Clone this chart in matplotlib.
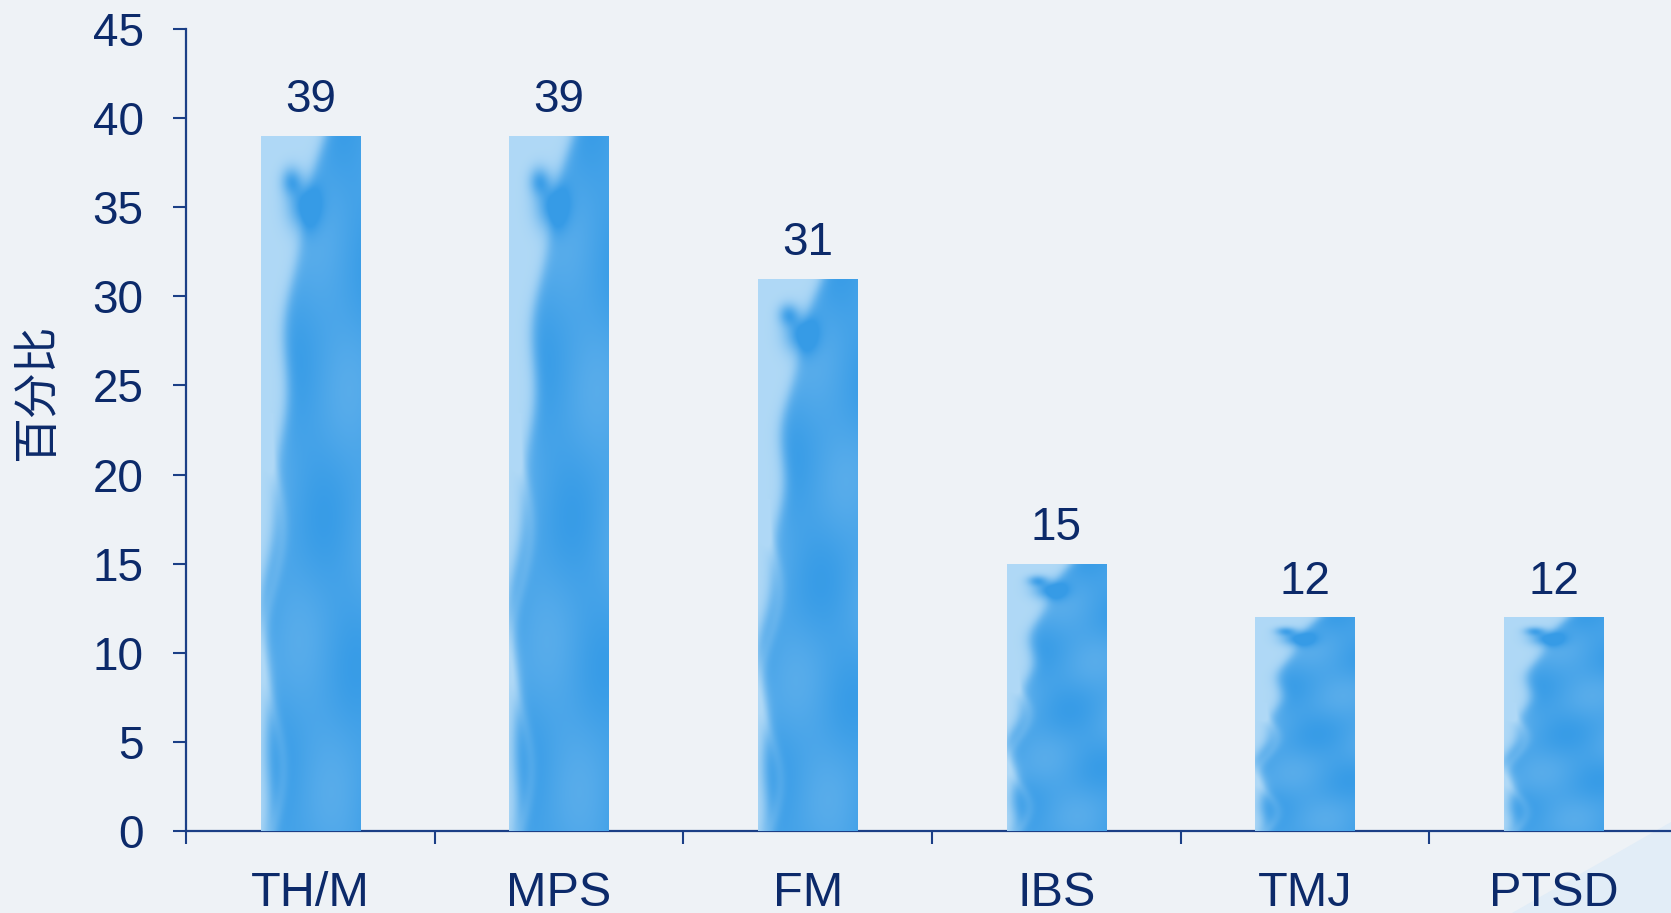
import numpy as np
import matplotlib
matplotlib.use("Agg")
import matplotlib.pyplot as plt
from matplotlib.patches import Polygon

# Chart data
categories = ["TH/M", "MPS", "FM", "IBS", "TMJ", "PTSD"]
values = [39, 39, 31, 15, 12, 12]
y_ticks = [0, 5, 10, 15, 20, 25, 30, 35, 40, 45]
y_label = "百分比"

NAVY = "#0c2a6a"
AXIS = "#1b3f86"
BG = "#eef2f6"
LIGHT = np.array([0.69, 0.85, 0.965])
DARK = np.array([0.215, 0.61, 0.905])

plt.rcParams["font.family"] = ["Liberation Sans", "DejaVu Sans"]


def watercolor_texture(h=400, w=120):
    """Smooth light-to-dark blue wash used to fill each bar."""
    y = np.linspace(0, 1, h)[:, None]          # 0 = bottom, 1 = top
    x = np.linspace(0, 1, w)[None, :]
    # boundary between the pale wash (left) and the saturated wash (right)
    edge = 0.04 + 0.55 * y ** 2.5 + 0.04 * np.sin(14 * y) + 0.025 * np.sin(31 * y + 1.0)
    t = 1.0 / (1.0 + np.exp(-(x - edge) / 0.035))
    # soft variation inside the saturated area
    t = t * (0.86 + 0.08 * np.sin(9 * y + 6 * x) + 0.05 * np.sin(23 * y - 4 * x))
    # darker brush stroke near the top
    blob = np.exp(-(((x - 0.42) / 0.16) ** 2 + ((y - 0.90) / 0.035) ** 2))
    blob += 0.8 * np.exp(-(((x - 0.30) / 0.10) ** 2 + ((y - 0.935) / 0.02) ** 2))
    t = np.clip(t + 0.9 * blob, 0, 1)
    # faint pale wisps in the lower-left part
    wisps = 0.18 * np.exp(-((x - 0.12 - 0.1 * np.sin(18 * y)) / 0.06) ** 2) * (y < 0.6)
    t = np.clip(t - wisps, 0, 1)
    img = LIGHT[None, None, :] * (1 - t[..., None]) + DARK[None, None, :] * t[..., None]
    return img[::-1]  # row 0 at the top for imshow


fig = plt.figure(figsize=(16.71, 9.13), dpi=100, facecolor=BG)

# pale decorative wash in the bottom-right corner, behind everything
fig.patches.append(Polygon([(0.905, 0.0), (1.0, 0.0), (1.0, 0.10)],
                           closed=True, transform=fig.transFigure,
                           facecolor="#e2edf7", edgecolor="none", zorder=-5))

ax = fig.add_axes([186 / 1671, (913 - 831) / 913, 1492 / 1671, 802 / 913])
ax.set_facecolor("none")
ax.set_zorder(1)

xpos = np.arange(len(categories))
bar_w = 0.4
bars = ax.bar(xpos, values, width=bar_w, color="#3b9ee8", zorder=2)
tex = watercolor_texture()
for rect, v in zip(bars, values):
    x0 = rect.get_x()
    im = ax.imshow(tex, extent=(x0, x0 + rect.get_width(), 0, v),
                   aspect="auto", interpolation="bilinear", zorder=3)
    im.set_clip_path(rect)
    ax.annotate(f"{v}", xy=(rect.get_x() + rect.get_width() / 2, v),
                xytext=(0, 17), textcoords="offset points",
                ha="center", va="baseline", fontsize=33, color=NAVY, zorder=4)

ax.set_xlim(-0.5, len(categories) - 0.5)
ax.set_ylim(0, 45)
ax.set_yticks(y_ticks)
ax.set_yticklabels([str(t) for t in y_ticks])

# category boundaries carry the ticks, labels sit between them
ax.set_xticks(np.arange(len(categories) + 1) - 0.5)
ax.set_xticklabels([""] * (len(categories) + 1))
ax.set_xticks(xpos, minor=True)
ax.set_xticklabels(categories, minor=True)
ax.tick_params(axis="x", which="minor", length=0, pad=29, labelsize=35, labelcolor=NAVY)
ax.tick_params(axis="x", which="major", length=9.5, width=1.5, color=AXIS, direction="out")
ax.tick_params(axis="y", length=9.5, width=1.5, color=AXIS, pad=21, labelsize=33,
               labelcolor=NAVY, direction="out")

for side in ("top", "right"):
    ax.spines[side].set_visible(False)
for side in ("left", "bottom"):
    ax.spines[side].set_color(AXIS)
    ax.spines[side].set_linewidth(1.6)

fig.text(37 / 1671, 1 - 392 / 913, y_label, rotation=90, ha="center", va="center",
         fontsize=33, color=NAVY,
         family=["Noto Sans CJK SC", "DejaVu Sans"])

fig.savefig("out.png", dpi=100, facecolor=BG)
